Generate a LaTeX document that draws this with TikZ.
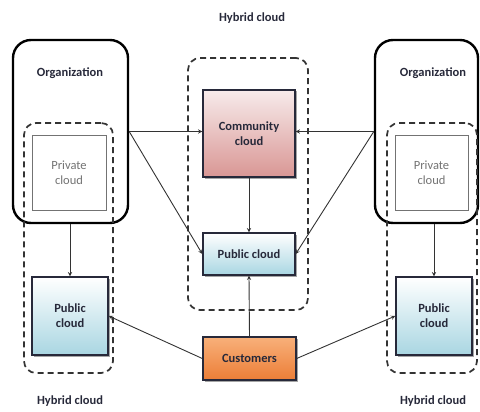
\documentclass[tikz,border=0pt]{standalone}
\usepackage{fontspec}
\setmainfont{Carlito}
\usepackage{tikz}
\usetikzlibrary{arrows,shadows}

\definecolor{inkc}{HTML}{27293A}
\definecolor{blueb}{HTML}{A9D6E2}
\definecolor{pinkb}{HTML}{D99694}
\definecolor{pinkt}{HTML}{F7EBEB}
\definecolor{orngt}{HTML}{F8B07A}
\definecolor{orngb}{HTML}{EC7E37}

\newcommand{\boxsize}{\fontsize{12.5}{15}\selectfont}

\tikzset{
  org/.style={draw=black, line width=2.4pt, rounded corners=18pt, inner sep=0pt},
  hyb/.style={draw=black!80, line width=1.7pt, dash pattern=on 6pt off 4pt, rounded corners=12pt, inner sep=0pt},
  priv/.style={draw=black!55, line width=0.7pt, fill=white, text=black!55, align=center, inner sep=0pt, font=\boxsize},
  cbox/.style={draw=inkc, line width=1.4pt, align=center, inner sep=0pt, text=inkc, font={\boxsize\bfseries},
    drop shadow={shadow xshift=1.5pt, shadow yshift=-1.5pt, fill=black!70}},
  pub/.style={cbox, top color=white, bottom color=blueb},
  ttl/.style={text=inkc, font={\boxsize\bfseries}},
  link/.style={->, >=stealth, line width=0.9pt, draw=black!80}
}

\begin{document}
\begin{tikzpicture}[x=1pt, y=-1pt]

    \useasboundingbox (0,0) rectangle (480,412);

    % left side
    \node[org, minimum width=115pt, minimum height=183pt] (orgL) at (70.5,131.5) {};
    \node[hyb, minimum width=89pt, minimum height=250pt] (hybL) at (68.5,248) {};
    \node[priv, minimum width=74pt, minimum height=75pt] (privL) at (69,172.5) {Private\\cloud};
    \node[pub, minimum width=76pt, minimum height=78pt] (pubL) at (70,316) {Public\\cloud};
    \node[ttl] (orgLtxt) at (70,73) {Organization};
    \node[ttl] (hybLtxt) at (70,401) {Hybrid cloud};

    % middle
    \node[hyb, minimum width=120pt, minimum height=252pt] (hybC) at (248,184) {};
    \node[cbox, top color=pinkt, bottom color=pinkb, minimum width=92pt, minimum height=87pt] (comm) at (249,133.5) {Community\\cloud};
    \node[pub, minimum width=92pt, minimum height=42pt] (pubC) at (249,254) {Public cloud};
    \node[cbox, top color=orngt, bottom color=orngb, minimum width=93pt, minimum height=43pt] (cust) at (249.5,358.5) {Customers};
    \node[ttl] (hybCtxt) at (252,18) {Hybrid cloud};

    % right side
    \node[org, minimum width=103pt, minimum height=183pt] (orgR) at (426.5,131.5) {};
    \node[hyb, minimum width=90pt, minimum height=250pt] (hybR) at (432,248) {};
    \node[priv, minimum width=73pt, minimum height=75pt] (privR) at (431.5,172.5) {Private\\cloud};
    \node[pub, minimum width=76pt, minimum height=78pt] (pubR) at (434,316) {Public\\cloud};
    \node[ttl] (orgRtxt) at (433,73) {Organization};
    \node[ttl] (hybRtxt) at (433,401) {Hybrid cloud};

    \draw[link] (orgL.east) -- (orgL.east -| comm.west);
    \draw[link] (orgL.east) -- (pubC.west);
    \draw[link] (orgR.west) -- (orgR.west -| comm.east);
    \draw[link] (orgR.west) -- (pubC.east);
    \draw[link] (comm.south) -- (pubC.north);
    \draw[link] (cust.north) -- (pubC.south);
    \draw[link] (cust.west) -- (pubL.east);
    \draw[link] (cust.east) -- (pubR.west);
    \draw[link] (orgL.south -| pubL.north) -- (pubL.north);
    \draw[link] (orgR.south -| pubR.north) -- (pubR.north);

\end{tikzpicture}
\end{document}
